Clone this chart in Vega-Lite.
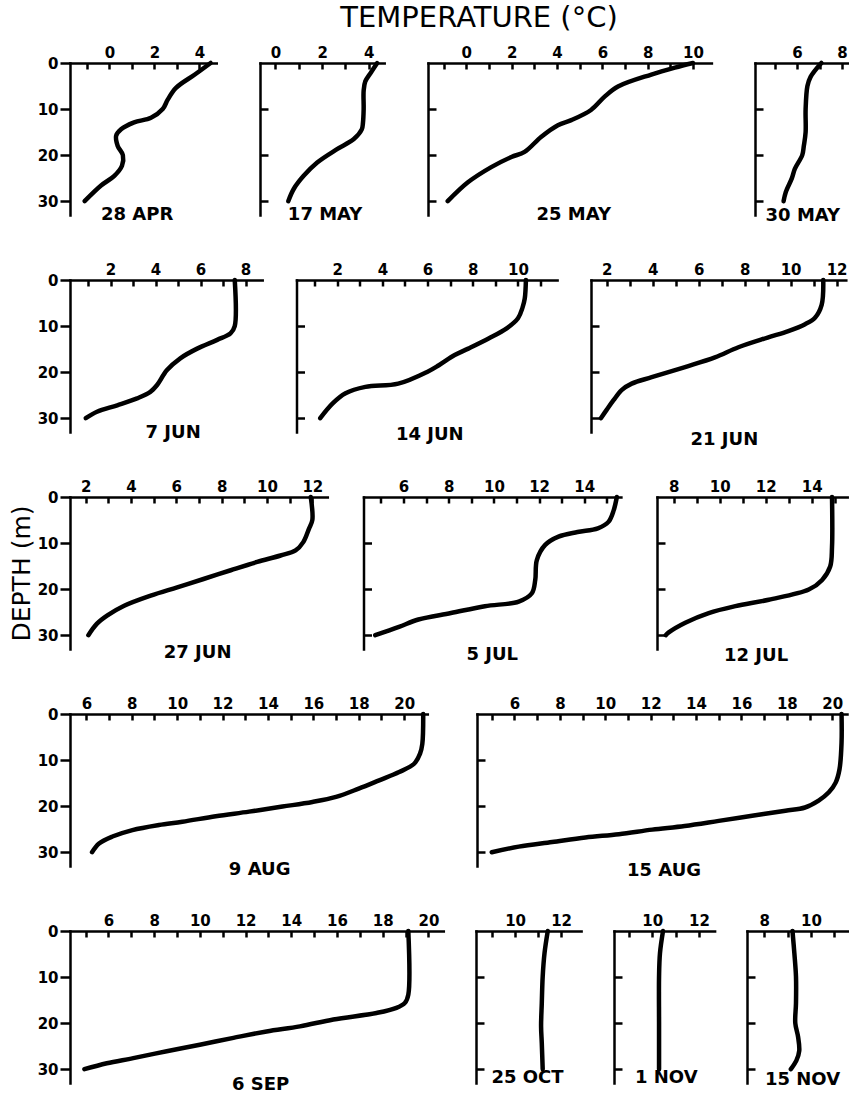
{
  "$schema": "https://vega.github.io/schema/vega-lite/v6.json",
  "padding": {"left": 9, "top": 4, "right": 0, "bottom": 0},
  "title": {"text": "TEMPERATURE (°C)", "fontSize": 29, "fontWeight": "normal", "anchor": "middle", "frame": "group", "dx": 409, "offset": 12},
  "data": {"values": [
    {"date": "28 APR", "depth": 0, "temp": 4.5}, {"date": "28 APR", "depth": 2.5, "temp": 3.8}, {"date": "28 APR", "depth": 5.4, "temp": 2.96}, {"date": "28 APR", "depth": 7.9, "temp": 2.6}, {"date": "28 APR", "depth": 10, "temp": 2.37}, {"date": "28 APR", "depth": 11.9, "temp": 1.85}, {"date": "28 APR", "depth": 12.9, "temp": 1.1}, {"date": "28 APR", "depth": 14.4, "temp": 0.52}, {"date": "28 APR", "depth": 15.8, "temp": 0.3}, {"date": "28 APR", "depth": 18, "temp": 0.37}, {"date": "28 APR", "depth": 20, "temp": 0.6}, {"date": "28 APR", "depth": 22.3, "temp": 0.56}, {"date": "28 APR", "depth": 24.5, "temp": 0.22}, {"date": "28 APR", "depth": 26.6, "temp": -0.37}, {"date": "28 APR", "depth": 30, "temp": -1.1},
    {"date": "17 MAY", "depth": 0, "temp": 4.36}, {"date": "17 MAY", "depth": 2, "temp": 4.1}, {"date": "17 MAY", "depth": 4, "temp": 3.85}, {"date": "17 MAY", "depth": 6, "temp": 3.78}, {"date": "17 MAY", "depth": 10, "temp": 3.78}, {"date": "17 MAY", "depth": 13, "temp": 3.75}, {"date": "17 MAY", "depth": 14.4, "temp": 3.7}, {"date": "17 MAY", "depth": 16.5, "temp": 3.36}, {"date": "17 MAY", "depth": 18.7, "temp": 2.64}, {"date": "17 MAY", "depth": 21.6, "temp": 1.79}, {"date": "17 MAY", "depth": 24.5, "temp": 1.21}, {"date": "17 MAY", "depth": 27.3, "temp": 0.79}, {"date": "17 MAY", "depth": 30, "temp": 0.55},
    {"date": "25 MAY", "depth": 0, "temp": 10.0}, {"date": "25 MAY", "depth": 1, "temp": 9.2}, {"date": "25 MAY", "depth": 2.5, "temp": 8.16}, {"date": "25 MAY", "depth": 5.1, "temp": 6.69}, {"date": "25 MAY", "depth": 7.3, "temp": 6.1}, {"date": "25 MAY", "depth": 10.2, "temp": 5.5}, {"date": "25 MAY", "depth": 12.4, "temp": 4.63}, {"date": "25 MAY", "depth": 13.5, "temp": 4.04}, {"date": "25 MAY", "depth": 16, "temp": 3.31}, {"date": "25 MAY", "depth": 19.3, "temp": 2.57}, {"date": "25 MAY", "depth": 20.4, "temp": 1.99}, {"date": "25 MAY", "depth": 22.6, "temp": 1.1}, {"date": "25 MAY", "depth": 25.9, "temp": 0.07}, {"date": "25 MAY", "depth": 30, "temp": -0.82},
    {"date": "30 MAY", "depth": 0, "temp": 7.08}, {"date": "30 MAY", "depth": 3, "temp": 6.6}, {"date": "30 MAY", "depth": 5, "temp": 6.46}, {"date": "30 MAY", "depth": 10, "temp": 6.38}, {"date": "30 MAY", "depth": 15, "temp": 6.38}, {"date": "30 MAY", "depth": 18, "temp": 6.3}, {"date": "30 MAY", "depth": 20, "temp": 6.23}, {"date": "30 MAY", "depth": 23, "temp": 5.9}, {"date": "30 MAY", "depth": 25, "temp": 5.77}, {"date": "30 MAY", "depth": 28, "temp": 5.5}, {"date": "30 MAY", "depth": 30, "temp": 5.4},
    {"date": "7 JUN", "depth": 0, "temp": 7.52}, {"date": "7 JUN", "depth": 10, "temp": 7.52}, {"date": "7 JUN", "depth": 11.6, "temp": 7.33}, {"date": "7 JUN", "depth": 13, "temp": 6.74}, {"date": "7 JUN", "depth": 14.9, "temp": 5.85}, {"date": "7 JUN", "depth": 17, "temp": 5.1}, {"date": "7 JUN", "depth": 19.6, "temp": 4.5}, {"date": "7 JUN", "depth": 22.8, "temp": 4.07}, {"date": "7 JUN", "depth": 24.3, "temp": 3.77}, {"date": "7 JUN", "depth": 25.7, "temp": 3.18}, {"date": "7 JUN", "depth": 27.2, "temp": 2.3}, {"date": "7 JUN", "depth": 28.6, "temp": 1.4}, {"date": "7 JUN", "depth": 30, "temp": 0.9},
    {"date": "14 JUN", "depth": 0, "temp": 10.35}, {"date": "14 JUN", "depth": 4, "temp": 10.3}, {"date": "14 JUN", "depth": 6, "temp": 10.2}, {"date": "14 JUN", "depth": 8.3, "temp": 10.0}, {"date": "14 JUN", "depth": 10.5, "temp": 9.5}, {"date": "14 JUN", "depth": 12.7, "temp": 8.7}, {"date": "14 JUN", "depth": 14.9, "temp": 7.8}, {"date": "14 JUN", "depth": 16.3, "temp": 7.2}, {"date": "14 JUN", "depth": 18.5, "temp": 6.5}, {"date": "14 JUN", "depth": 19.9, "temp": 6.0}, {"date": "14 JUN", "depth": 22.5, "temp": 4.7}, {"date": "14 JUN", "depth": 23.2, "temp": 3.25}, {"date": "14 JUN", "depth": 24.6, "temp": 2.37}, {"date": "14 JUN", "depth": 26.8, "temp": 1.8}, {"date": "14 JUN", "depth": 30, "temp": 1.25},
    {"date": "21 JUN", "depth": 0, "temp": 11.42}, {"date": "21 JUN", "depth": 5.4, "temp": 11.35}, {"date": "21 JUN", "depth": 8.2, "temp": 11.06}, {"date": "21 JUN", "depth": 9.6, "temp": 10.63}, {"date": "21 JUN", "depth": 11.1, "temp": 9.9}, {"date": "21 JUN", "depth": 12.5, "temp": 9.0}, {"date": "21 JUN", "depth": 14.6, "temp": 7.73}, {"date": "21 JUN", "depth": 16.8, "temp": 6.71}, {"date": "21 JUN", "depth": 18.9, "temp": 5.41}, {"date": "21 JUN", "depth": 21.1, "temp": 3.96}, {"date": "21 JUN", "depth": 22.5, "temp": 3.09}, {"date": "21 JUN", "depth": 23.9, "temp": 2.65}, {"date": "21 JUN", "depth": 26.1, "temp": 2.3}, {"date": "21 JUN", "depth": 28.2, "temp": 2.0}, {"date": "21 JUN", "depth": 30, "temp": 1.75},
    {"date": "27 JUN", "depth": 0, "temp": 11.93}, {"date": "27 JUN", "depth": 5, "temp": 12.0}, {"date": "27 JUN", "depth": 6.9, "temp": 11.85}, {"date": "27 JUN", "depth": 9.8, "temp": 11.6}, {"date": "27 JUN", "depth": 11.6, "temp": 11.26}, {"date": "27 JUN", "depth": 12.7, "temp": 10.6}, {"date": "27 JUN", "depth": 14.1, "temp": 9.57}, {"date": "27 JUN", "depth": 15.9, "temp": 8.4}, {"date": "27 JUN", "depth": 17.8, "temp": 7.2}, {"date": "27 JUN", "depth": 19.6, "temp": 6.04}, {"date": "27 JUN", "depth": 21.4, "temp": 4.87}, {"date": "27 JUN", "depth": 23.6, "temp": 3.7}, {"date": "27 JUN", "depth": 25.7, "temp": 2.96}, {"date": "27 JUN", "depth": 27.5, "temp": 2.5}, {"date": "27 JUN", "depth": 30, "temp": 2.12},
    {"date": "5 JUL", "depth": 0, "temp": 15.44}, {"date": "5 JUL", "depth": 2.9, "temp": 15.3}, {"date": "5 JUL", "depth": 5.4, "temp": 15.07}, {"date": "5 JUL", "depth": 6.8, "temp": 14.6}, {"date": "5 JUL", "depth": 7.6, "temp": 13.7}, {"date": "5 JUL", "depth": 8.6, "temp": 12.86}, {"date": "5 JUL", "depth": 10.4, "temp": 12.27}, {"date": "5 JUL", "depth": 13.7, "temp": 11.9}, {"date": "5 JUL", "depth": 18, "temp": 11.83}, {"date": "5 JUL", "depth": 20.9, "temp": 11.68}, {"date": "5 JUL", "depth": 22.7, "temp": 11.1}, {"date": "5 JUL", "depth": 23.7, "temp": 9.6}, {"date": "5 JUL", "depth": 25.2, "temp": 8.1}, {"date": "5 JUL", "depth": 26.6, "temp": 6.66}, {"date": "5 JUL", "depth": 28.2, "temp": 5.8}, {"date": "5 JUL", "depth": 30, "temp": 4.75},
    {"date": "12 JUL", "depth": 0, "temp": 14.88}, {"date": "12 JUL", "depth": 10.8, "temp": 14.88}, {"date": "12 JUL", "depth": 15.1, "temp": 14.8}, {"date": "12 JUL", "depth": 18, "temp": 14.45}, {"date": "12 JUL", "depth": 20.1, "temp": 13.87}, {"date": "12 JUL", "depth": 22.3, "temp": 12.13}, {"date": "12 JUL", "depth": 23.7, "temp": 10.68}, {"date": "12 JUL", "depth": 25.2, "temp": 9.52}, {"date": "12 JUL", "depth": 27.3, "temp": 8.5}, {"date": "12 JUL", "depth": 29.4, "temp": 7.78}, {"date": "12 JUL", "depth": 30, "temp": 7.65},
    {"date": "9 AUG", "depth": 0, "temp": 20.84}, {"date": "9 AUG", "depth": 6.5, "temp": 20.8}, {"date": "9 AUG", "depth": 8.6, "temp": 20.7}, {"date": "9 AUG", "depth": 10.8, "temp": 20.44}, {"date": "9 AUG", "depth": 12.6, "temp": 19.78}, {"date": "9 AUG", "depth": 14.4, "temp": 18.9}, {"date": "9 AUG", "depth": 16.2, "temp": 18.0}, {"date": "9 AUG", "depth": 18, "temp": 17.0}, {"date": "9 AUG", "depth": 19.1, "temp": 15.96}, {"date": "9 AUG", "depth": 20.1, "temp": 14.64}, {"date": "9 AUG", "depth": 21.2, "temp": 13.17}, {"date": "9 AUG", "depth": 22.2, "temp": 11.7}, {"date": "9 AUG", "depth": 23.4, "temp": 10.23}, {"date": "9 AUG", "depth": 24.1, "temp": 9.2}, {"date": "9 AUG", "depth": 25.2, "temp": 8.03}, {"date": "9 AUG", "depth": 26.6, "temp": 7.15}, {"date": "9 AUG", "depth": 28.1, "temp": 6.56}, {"date": "9 AUG", "depth": 30, "temp": 6.25},
    {"date": "15 AUG", "depth": 0, "temp": 20.41}, {"date": "15 AUG", "depth": 6.2, "temp": 20.41}, {"date": "15 AUG", "depth": 12, "temp": 20.32}, {"date": "15 AUG", "depth": 14.9, "temp": 20.15}, {"date": "15 AUG", "depth": 17, "temp": 19.85}, {"date": "15 AUG", "depth": 18.8, "temp": 19.4}, {"date": "15 AUG", "depth": 20.3, "temp": 18.8}, {"date": "15 AUG", "depth": 21, "temp": 17.94}, {"date": "15 AUG", "depth": 22.1, "temp": 16.47}, {"date": "15 AUG", "depth": 23.2, "temp": 15.0}, {"date": "15 AUG", "depth": 24.3, "temp": 13.5}, {"date": "15 AUG", "depth": 25.1, "temp": 12.07}, {"date": "15 AUG", "depth": 26.1, "temp": 10.6}, {"date": "15 AUG", "depth": 26.8, "temp": 9.13}, {"date": "15 AUG", "depth": 27.8, "temp": 7.66}, {"date": "15 AUG", "depth": 28.8, "temp": 6.19}, {"date": "15 AUG", "depth": 30, "temp": 5.0},
    {"date": "6 SEP", "depth": 0, "temp": 19.12}, {"date": "6 SEP", "depth": 13.8, "temp": 19.12}, {"date": "6 SEP", "depth": 15.6, "temp": 18.97}, {"date": "6 SEP", "depth": 16.7, "temp": 18.6}, {"date": "6 SEP", "depth": 17.8, "temp": 17.73}, {"date": "6 SEP", "depth": 19.2, "temp": 15.84}, {"date": "6 SEP", "depth": 20.7, "temp": 14.38}, {"date": "6 SEP", "depth": 21.8, "temp": 12.92}, {"date": "6 SEP", "depth": 23.2, "temp": 11.47}, {"date": "6 SEP", "depth": 24.7, "temp": 10.0}, {"date": "6 SEP", "depth": 26.1, "temp": 8.55}, {"date": "6 SEP", "depth": 27.6, "temp": 7.09}, {"date": "6 SEP", "depth": 28.7, "temp": 5.93}, {"date": "6 SEP", "depth": 30, "temp": 4.95},
    {"date": "25 OCT", "depth": 0, "temp": 11.42}, {"date": "25 OCT", "depth": 4.8, "temp": 11.28}, {"date": "25 OCT", "depth": 9.9, "temp": 11.2}, {"date": "25 OCT", "depth": 15.7, "temp": 11.16}, {"date": "25 OCT", "depth": 20.7, "temp": 11.13}, {"date": "25 OCT", "depth": 24.3, "temp": 11.16}, {"date": "25 OCT", "depth": 30, "temp": 11.2},
    {"date": "1 NOV", "depth": 0, "temp": 10.46}, {"date": "1 NOV", "depth": 4.8, "temp": 10.33}, {"date": "1 NOV", "depth": 9.9, "temp": 10.29}, {"date": "1 NOV", "depth": 20, "temp": 10.29}, {"date": "1 NOV", "depth": 30, "temp": 10.29},
    {"date": "15 NOV", "depth": 0, "temp": 9.21}, {"date": "15 NOV", "depth": 4.8, "temp": 9.29}, {"date": "15 NOV", "depth": 9.9, "temp": 9.36}, {"date": "15 NOV", "depth": 15.7, "temp": 9.36}, {"date": "15 NOV", "depth": 20, "temp": 9.33}, {"date": "15 NOV", "depth": 23, "temp": 9.45}, {"date": "15 NOV", "depth": 26, "temp": 9.5}, {"date": "15 NOV", "depth": 28.1, "temp": 9.38}, {"date": "15 NOV", "depth": 30, "temp": 9.14}
  ]},
  "bounds": "flush",
  "spacing": 217,
  "vconcat": [
    {"hconcat": [
      {"width": 146.25, "height": 152, "title": {"text": "28 APR", "orient": "bottom", "frame": "group", "offset": -9, "dx": -6},
       "transform": [{"filter": "datum.date === '28 APR'"}], "mark": "line",
       "encoding": {
         "x": {"field": "temp", "type": "quantitative", "scale": {"domain": [-1.75, 4.75], "nice": false, "zero": false}, "axis": {"orient": "top", "title": null, "values": [-1, 0, 1, 2, 3, 4], "labelExpr": "datum.value % 2 === 0 ? datum.label : ''", "tickSize": -6, "labelPadding": 9, "labelFlush": false, "labelOverlap": false}},
         "y": {"field": "depth", "type": "quantitative", "scale": {"domain": [0, 33], "reverse": true, "nice": false, "zero": false}, "axis": {"title": null, "values": [0, 10, 20, 30], "tickSize": 10, "labelPadding": 2}},
         "order": {"field": "depth", "type": "quantitative"}}},
      {"width": 124.2, "height": 152, "title": {"text": "17 MAY", "orient": "bottom", "frame": "group", "offset": -9, "dx": 3},
       "transform": [{"filter": "datum.date === '17 MAY'"}], "mark": "line",
       "encoding": {
         "x": {"field": "temp", "type": "quantitative", "scale": {"domain": [-0.66, 4.66], "nice": false, "zero": false}, "axis": {"orient": "top", "title": null, "values": [0, 1, 2, 3, 4], "labelExpr": "datum.value % 2 === 0 ? datum.label : ''", "tickSize": -6, "labelPadding": 9, "labelFlush": false, "labelOverlap": false}},
         "y": {"field": "depth", "type": "quantitative", "scale": {"domain": [0, 33], "reverse": true, "nice": false, "zero": false}, "axis": {"title": null, "values": [10, 20, 30], "tickSize": -8, "labels": false}},
         "order": {"field": "depth", "type": "quantitative"}}},
      {"width": 283.4, "height": 152, "title": {"text": "25 MAY", "orient": "bottom", "frame": "group", "offset": -9, "dx": 4},
       "transform": [{"filter": "datum.date === '25 MAY'"}], "mark": "line",
       "encoding": {
         "x": {"field": "temp", "type": "quantitative", "scale": {"domain": [-1.69, 10.81], "nice": false, "zero": false}, "axis": {"orient": "top", "title": null, "values": [-1, 0, 1, 2, 3, 4, 5, 6, 7, 8, 9, 10], "labelExpr": "datum.value % 2 === 0 ? datum.label : ''", "tickSize": -6, "labelPadding": 9, "labelFlush": false, "labelOverlap": false}},
         "y": {"field": "depth", "type": "quantitative", "scale": {"domain": [0, 33], "reverse": true, "nice": false, "zero": false}, "axis": {"title": null, "values": [10, 20, 30], "tickSize": -8, "labels": false}},
         "order": {"field": "depth", "type": "quantitative"}}},
      {"width": 93.6, "height": 152, "title": {"text": "30 MAY", "orient": "bottom", "frame": "group", "offset": -8, "dx": 1},
       "transform": [{"filter": "datum.date === '30 MAY'"}], "mark": "line",
       "encoding": {
         "x": {"field": "temp", "type": "quantitative", "scale": {"domain": [4.13, 8.29], "nice": false, "zero": false}, "axis": {"orient": "top", "title": null, "values": [5, 6, 7, 8], "labelExpr": "datum.value % 2 === 0 ? datum.label : ''", "tickSize": -6, "labelPadding": 9, "labelFlush": false, "labelOverlap": false}},
         "y": {"field": "depth", "type": "quantitative", "scale": {"domain": [0, 33], "reverse": true, "nice": false, "zero": false}, "axis": {"title": null, "values": [10, 20, 30], "tickSize": -8, "labels": false}},
         "order": {"field": "depth", "type": "quantitative"}}}
    ], "spacing": 43, "bounds": "flush"},
    {"hconcat": [
      {"width": 192.2, "height": 152, "title": {"text": "7 JUN", "orient": "bottom", "frame": "group", "offset": -8, "dx": 7},
       "transform": [{"filter": "datum.date === '7 JUN'"}], "mark": "line",
       "encoding": {
         "x": {"field": "temp", "type": "quantitative", "scale": {"domain": [0.2, 8.74], "nice": false, "zero": false}, "axis": {"orient": "top", "title": null, "values": [1, 2, 3, 4, 5, 6, 7, 8], "labelExpr": "datum.value % 2 === 0 ? datum.label : ''", "tickSize": -6, "labelPadding": 9, "labelFlush": false, "labelOverlap": false}},
         "y": {"field": "depth", "type": "quantitative", "scale": {"domain": [0, 33], "reverse": true, "nice": false, "zero": false}, "axis": {"title": null, "values": [0, 10, 20, 30], "tickSize": 10, "labelPadding": 2}},
         "order": {"field": "depth", "type": "quantitative"}}},
      {"width": 260.6, "height": 152, "title": {"text": "14 JUN", "orient": "bottom", "frame": "group", "offset": -6, "dx": 3},
       "transform": [{"filter": "datum.date === '14 JUN'"}], "mark": "line",
       "encoding": {
         "x": {"field": "temp", "type": "quantitative", "scale": {"domain": [0.2, 11.73], "nice": false, "zero": false}, "axis": {"orient": "top", "title": null, "values": [1, 2, 3, 4, 5, 6, 7, 8, 9, 10, 11], "labelExpr": "datum.value % 2 === 0 ? datum.label : ''", "tickSize": -6, "labelPadding": 9, "labelFlush": false, "labelOverlap": false}},
         "y": {"field": "depth", "type": "quantitative", "scale": {"domain": [0, 33], "reverse": true, "nice": false, "zero": false}, "axis": {"title": null, "values": [10, 20, 30], "tickSize": -8, "labels": false}},
         "order": {"field": "depth", "type": "quantitative"}}},
      {"width": 254.8, "height": 152, "title": {"text": "21 JUN", "orient": "bottom", "frame": "group", "offset": -1, "dx": 6},
       "transform": [{"filter": "datum.date === '21 JUN'"}], "mark": "line",
       "encoding": {
         "x": {"field": "temp", "type": "quantitative", "scale": {"domain": [1.32, 12.4], "nice": false, "zero": false}, "axis": {"orient": "top", "title": null, "values": [2, 3, 4, 5, 6, 7, 8, 9, 10, 11, 12], "labelExpr": "datum.value % 2 === 0 ? datum.label : ''", "tickSize": -6, "labelPadding": 9, "labelFlush": false, "labelOverlap": false}},
         "y": {"field": "depth", "type": "quantitative", "scale": {"domain": [0, 33], "reverse": true, "nice": false, "zero": false}, "axis": {"title": null, "values": [10, 20, 30], "tickSize": -8, "labels": false}},
         "order": {"field": "depth", "type": "quantitative"}}}
    ], "spacing": 33.5, "bounds": "flush"},
    {"hconcat": [
      {"width": 257.3, "height": 152, "title": {"text": "27 JUN", "orient": "bottom", "frame": "group", "offset": -5, "dx": -1},
       "transform": [{"filter": "datum.date === '27 JUN'"}], "mark": "line",
       "encoding": {
         "x": {"field": "temp", "type": "quantitative", "scale": {"domain": [1.31, 12.66], "nice": false, "zero": false}, "axis": {"orient": "top", "title": null, "values": [2, 3, 4, 5, 6, 7, 8, 9, 10, 11, 12], "labelExpr": "datum.value % 2 === 0 ? datum.label : ''", "tickSize": -6, "labelPadding": 9, "labelFlush": false, "labelOverlap": false}},
         "y": {"field": "depth", "type": "quantitative", "scale": {"domain": [0, 33], "reverse": true, "nice": false, "zero": false}, "axis": {"title": "DEPTH (m)", "titleFont": "DejaVu Sans", "titleFontSize": 25, "titleFontWeight": "normal", "titlePadding": 3, "values": [0, 10, 20, 30], "tickSize": 10, "labelPadding": 2}},
         "order": {"field": "depth", "type": "quantitative"}}},
      {"width": 257.4, "height": 152, "title": {"text": "5 JUL", "orient": "bottom", "frame": "group", "offset": -3, "dx": 0},
       "transform": [{"filter": "datum.date === '5 JUL'"}], "mark": "line",
       "encoding": {
         "x": {"field": "temp", "type": "quantitative", "scale": {"domain": [4.23, 15.62], "nice": false, "zero": false}, "axis": {"orient": "top", "title": null, "values": [5, 6, 7, 8, 9, 10, 11, 12, 13, 14, 15], "labelExpr": "datum.value % 2 === 0 ? datum.label : ''", "tickSize": -6, "labelPadding": 9, "labelFlush": false, "labelOverlap": false}},
         "y": {"field": "depth", "type": "quantitative", "scale": {"domain": [0, 33], "reverse": true, "nice": false, "zero": false}, "axis": {"title": null, "values": [10, 20, 30], "tickSize": -8, "labels": false}},
         "order": {"field": "depth", "type": "quantitative"}}},
      {"width": 190.2, "height": 152, "title": {"text": "12 JUL", "orient": "bottom", "frame": "group", "offset": -2, "dx": 4},
       "transform": [{"filter": "datum.date === '12 JUL'"}], "mark": "line",
       "encoding": {
         "x": {"field": "temp", "type": "quantitative", "scale": {"domain": [7.27, 15.54], "nice": false, "zero": false}, "axis": {"orient": "top", "title": null, "values": [8, 9, 10, 11, 12, 13, 14, 15], "labelExpr": "datum.value % 2 === 0 ? datum.label : ''", "tickSize": -6, "labelPadding": 9, "labelFlush": false, "labelOverlap": false}},
         "y": {"field": "depth", "type": "quantitative", "scale": {"domain": [0, 33], "reverse": true, "nice": false, "zero": false}, "axis": {"title": null, "values": [10, 20, 30], "tickSize": -8, "labels": false}},
         "order": {"field": "depth", "type": "quantitative"}}}
    ], "spacing": 35.5, "bounds": "flush"},
    {"hconcat": [
      {"width": 357.3, "height": 152, "title": {"text": "9 AUG", "orient": "bottom", "frame": "group", "offset": -5, "dx": 11},
       "transform": [{"filter": "datum.date === '9 AUG'"}], "mark": "line",
       "encoding": {
         "x": {"field": "temp", "type": "quantitative", "scale": {"domain": [5.28, 21.02], "nice": false, "zero": false}, "axis": {"orient": "top", "title": null, "values": [6, 7, 8, 9, 10, 11, 12, 13, 14, 15, 16, 17, 18, 19, 20], "labelExpr": "datum.value % 2 === 0 ? datum.label : ''", "tickSize": -6, "labelPadding": 9, "labelFlush": false, "labelOverlap": false}},
         "y": {"field": "depth", "type": "quantitative", "scale": {"domain": [0, 33], "reverse": true, "nice": false, "zero": false}, "axis": {"title": null, "values": [0, 10, 20, 30], "tickSize": 10, "labelPadding": 2}},
         "order": {"field": "depth", "type": "quantitative"}}},
      {"width": 370, "height": 152, "title": {"text": "15 AUG", "orient": "bottom", "frame": "group", "offset": -4, "dx": 2},
       "transform": [{"filter": "datum.date === '15 AUG'"}], "mark": "line",
       "encoding": {
         "x": {"field": "temp", "type": "quantitative", "scale": {"domain": [4.35, 20.65], "nice": false, "zero": false}, "axis": {"orient": "top", "title": null, "values": [5, 6, 7, 8, 9, 10, 11, 12, 13, 14, 15, 16, 17, 18, 19, 20], "labelExpr": "datum.value % 2 === 0 ? datum.label : ''", "tickSize": -6, "labelPadding": 9, "labelFlush": false, "labelOverlap": false}},
         "y": {"field": "depth", "type": "quantitative", "scale": {"domain": [0, 33], "reverse": true, "nice": false, "zero": false}, "axis": {"title": null, "values": [10, 20, 30], "tickSize": -8, "labels": false}},
         "order": {"field": "depth", "type": "quantitative"}}}
    ], "spacing": 49, "bounds": "flush"},
    {"hconcat": [
      {"width": 373.3, "height": 152, "title": {"text": "6 SEP", "orient": "bottom", "frame": "group", "offset": -7, "dx": 4},
       "transform": [{"filter": "datum.date === '6 SEP'"}], "mark": "line",
       "encoding": {
         "x": {"field": "temp", "type": "quantitative", "scale": {"domain": [4.32, 20.65], "nice": false, "zero": false}, "axis": {"orient": "top", "title": null, "values": [5, 6, 7, 8, 9, 10, 11, 12, 13, 14, 15, 16, 17, 18, 19, 20], "labelExpr": "datum.value % 2 === 0 ? datum.label : ''", "tickSize": -6, "labelPadding": 9, "labelFlush": false, "labelOverlap": false}},
         "y": {"field": "depth", "type": "quantitative", "scale": {"domain": [0, 33], "reverse": true, "nice": false, "zero": false}, "axis": {"title": null, "values": [0, 10, 20, 30], "tickSize": 10, "labelPadding": 2}},
         "order": {"field": "depth", "type": "quantitative"}}},
      {"width": 105.1, "height": 152, "title": {"text": "25 OCT", "orient": "bottom", "frame": "group", "offset": -14, "dx": -1},
       "transform": [{"filter": "datum.date === '25 OCT'"}], "mark": "line",
       "encoding": {
         "x": {"field": "temp", "type": "quantitative", "scale": {"domain": [8.3, 12.87], "nice": false, "zero": false}, "axis": {"orient": "top", "title": null, "values": [9, 10, 11, 12], "labelExpr": "datum.value % 2 === 0 ? datum.label : ''", "tickSize": -6, "labelPadding": 9, "labelFlush": false, "labelOverlap": false}},
         "y": {"field": "depth", "type": "quantitative", "scale": {"domain": [0, 33], "reverse": true, "nice": false, "zero": false}, "axis": {"title": null, "values": [10, 20, 30], "tickSize": -8, "labels": false}},
         "order": {"field": "depth", "type": "quantitative"}}},
      {"width": 100.6, "height": 152, "title": {"text": "1 NOV", "orient": "bottom", "frame": "group", "offset": -14, "dx": 2},
       "transform": [{"filter": "datum.date === '1 NOV'"}], "mark": "line",
       "encoding": {
         "x": {"field": "temp", "type": "quantitative", "scale": {"domain": [8.36, 12.67], "nice": false, "zero": false}, "axis": {"orient": "top", "title": null, "values": [9, 10, 11, 12], "labelExpr": "datum.value % 2 === 0 ? datum.label : ''", "tickSize": -6, "labelPadding": 9, "labelFlush": false, "labelOverlap": false}},
         "y": {"field": "depth", "type": "quantitative", "scale": {"domain": [0, 33], "reverse": true, "nice": false, "zero": false}, "axis": {"title": null, "values": [10, 20, 30], "tickSize": -8, "labels": false}},
         "order": {"field": "depth", "type": "quantitative"}}},
      {"width": 101, "height": 152, "title": {"text": "15 NOV", "orient": "bottom", "frame": "group", "offset": -12, "dx": 5},
       "transform": [{"filter": "datum.date === '15 NOV'"}], "mark": "line",
       "encoding": {
         "x": {"field": "temp", "type": "quantitative", "scale": {"domain": [7.26, 11.59], "nice": false, "zero": false}, "axis": {"orient": "top", "title": null, "values": [8, 9, 10, 11], "labelExpr": "datum.value % 2 === 0 ? datum.label : ''", "tickSize": -6, "labelPadding": 9, "labelFlush": false, "labelOverlap": false}},
         "y": {"field": "depth", "type": "quantitative", "scale": {"domain": [0, 33], "reverse": true, "nice": false, "zero": false}, "axis": {"title": null, "values": [10, 20, 30], "tickSize": -8, "labels": false}},
         "order": {"field": "depth", "type": "quantitative"}}}
    ], "spacing": 32, "bounds": "flush"}
  ],
  "config": {
    "view": {"stroke": null},
    "font": "DejaVu Sans",
    "axis": {"domainColor": "black", "domainWidth": 2.5, "domainCap": "square", "tickColor": "black", "tickWidth": 2.5, "labelFont": "DejaVu Sans", "labelFontWeight": "bold", "labelFontSize": 15, "labelColor": "black", "grid": false, "titleColor": "black"},
    "line": {"color": "black", "strokeWidth": 4.5, "strokeCap": "round", "interpolate": "catmull-rom"},
    "title": {"font": "DejaVu Sans", "fontWeight": "bold", "fontSize": 18, "color": "black"}
  }
}
